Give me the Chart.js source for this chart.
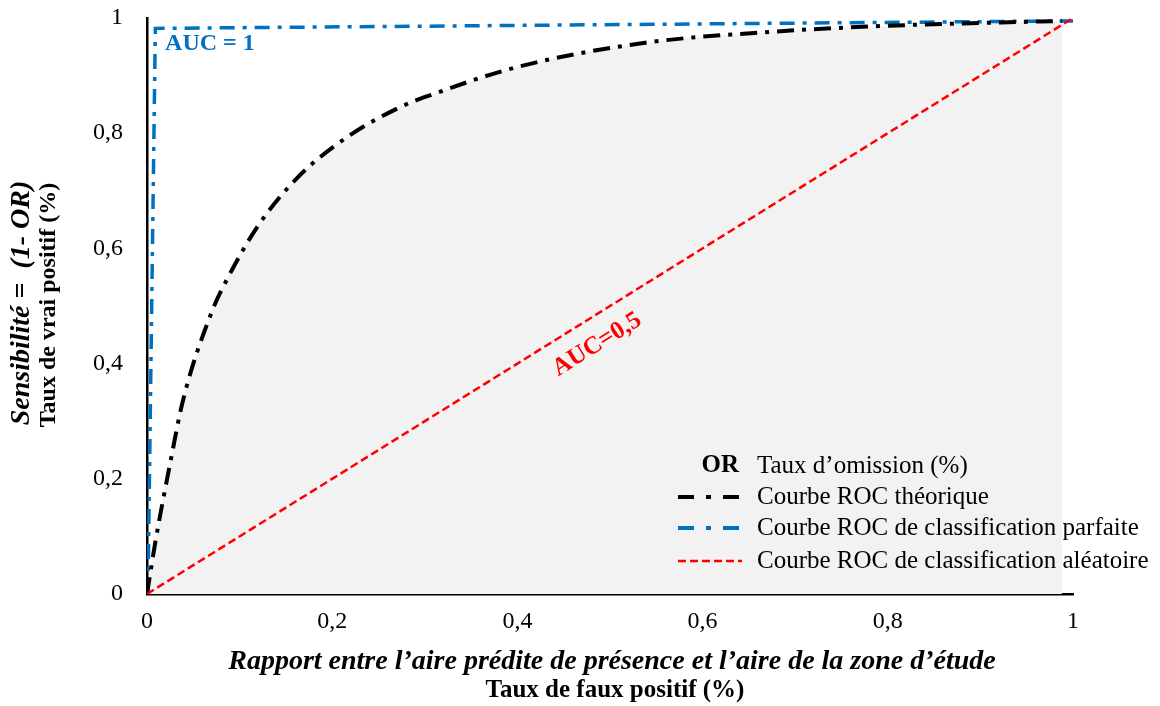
<!DOCTYPE html>
<html>
<head>
<meta charset="utf-8">
<script src="https://cdn.jsdelivr.net/npm/chart.js@4/dist/chart.umd.min.js"></script>
<style>
  html, body { margin: 0; padding: 0; background: #fff; }
  .chart { width: 1160px; height: 706px; }
</style>
</head>
<body>
<div class="chart"><canvas id="roc" width="1160" height="706"></canvas></div>
<script>
// ROC theorique
const rocX = [0, 0.009, 0.025, 0.039, 0.07, 0.086, 0.119, 0.162, 0.216, 0.273, 0.306, 0.40, 0.538, 0.674, 0.792, 0.988];
const rocY = [0, 0.09, 0.227, 0.337, 0.49, 0.545, 0.637, 0.722, 0.793, 0.845, 0.866, 0.915, 0.957, 0.976, 0.986, 0.995];

// classification parfaite
const perfX = [0.001, 0.009, 1];
const perfY = [0, 0.982, 0.995];

// classification aleatoire
const randX = [0, 1];
const randY = [0, 1];

const tickValues = [0, 0.2, 0.4, 0.6, 0.8, 1];

const legendItems = [
  { key: 'OR', label: 'Taux d\u2019omission (%)' },
  { label: 'Courbe ROC théorique', color: '#000000', dash: [16, 12, 5, 12], width: 4 },
  { label: 'Courbe ROC de classification parfaite', color: '#0070C0', dash: [16, 12, 5, 12], width: 4 },
  { label: 'Courbe ROC de classification aléatoire', color: '#FF0000', dash: [8, 4], width: 2.5 }
];

const toPoints = (xs, ys) => xs.map((x, i) => ({ x: x, y: ys[i] }));
const frNum = (v) => String(Math.round(v * 10) / 10).replace('.', ',');

const SERIF = '"Liberation Serif", "Times New Roman", serif';

const decorations = {
  id: 'decorations',
  afterDatasetsDraw(chart) {
    const ctx = chart.ctx;
    const xs = chart.scales.x, ys = chart.scales.y;
    ctx.save();

    // AUC = 1
    ctx.fillStyle = '#0070C0';
    ctx.font = 'bold 24px ' + SERIF;
    ctx.textAlign = 'left';
    ctx.textBaseline = 'middle';
    ctx.fillText('AUC = 1', xs.getPixelForValue(0.0195), ys.getPixelForValue(0.955));

    // AUC=0,5 along the diagonal
    const x0 = xs.getPixelForValue(0), y0 = ys.getPixelForValue(0);
    const x1 = xs.getPixelForValue(1), y1 = ys.getPixelForValue(1);
    const ang = Math.atan2(y1 - y0, x1 - x0);
    ctx.save();
    ctx.translate(xs.getPixelForValue(0.486), ys.getPixelForValue(0.433));
    ctx.rotate(ang);
    ctx.fillStyle = '#FF0000';
    ctx.font = 'bold 25px ' + SERIF;
    ctx.textAlign = 'center';
    ctx.fillText('AUC=0,5', 0, 0);
    ctx.restore();

    // legend
    const rowsY = [466, 497, 528, 561];
    const lineX0 = 678, lineX1 = 742, textX = 757;
    legendItems.forEach((it, i) => {
      const y = rowsY[i];
      if (it.key) {
        ctx.fillStyle = '#000';
        ctx.font = 'bold 25px ' + SERIF;
        ctx.textAlign = 'right';
        ctx.fillText(it.key, 739, y);
      } else {
        ctx.beginPath();
        ctx.setLineDash(it.dash);
        ctx.lineWidth = it.width;
        ctx.strokeStyle = it.color;
        ctx.moveTo(lineX0, y);
        ctx.lineTo(lineX1, y);
        ctx.stroke();
        ctx.setLineDash([]);
      }
      ctx.fillStyle = '#000';
      ctx.font = '25px ' + SERIF;
      ctx.textAlign = 'left';
      ctx.fillText(it.label, textX, y);
    });

    // axis titles
    ctx.fillStyle = '#000';
    ctx.textAlign = 'center';
    ctx.font = 'bold italic 28px ' + SERIF;
    ctx.fillText('Rapport entre l\u2019aire prédite de présence et l\u2019aire de la zone d\u2019étude', 612, 662, 775);
    ctx.font = 'bold 25px ' + SERIF;
    ctx.fillText('Taux de faux positif (%)', 615, 691);

    ctx.save();
    ctx.translate(22, 303);
    ctx.rotate(-Math.PI / 2);
    ctx.font = 'bold italic 28px ' + SERIF;
    ctx.fillText('Sensibilité =  (1- OR)', 0, 0);
    ctx.restore();
    ctx.save();
    ctx.translate(49, 305);
    ctx.rotate(-Math.PI / 2);
    ctx.font = 'bold 24px ' + SERIF;
    ctx.fillText('Taux de vrai positif (%)', 0, 0);
    ctx.restore();

    ctx.restore();
  }
};

new Chart(document.getElementById('roc'), {
  type: 'scatter',
  data: {
    datasets: [
      {
        label: 'Courbe ROC de classification aléatoire',
        data: toPoints(randX, randY),
        showLine: true,
        borderColor: '#FF0000',
        borderWidth: 2.5,
        borderDash: [8, 4],
        pointRadius: 0,
        fill: false,
        order: 1
      },
      {
        label: 'Courbe ROC théorique',
        data: toPoints(rocX, rocY),
        showLine: true,
        borderColor: '#000000',
        borderWidth: 4,
        borderDash: [17, 8, 4, 8],
        backgroundColor: '#F2F2F2',
        fill: 'origin',
        cubicInterpolationMode: 'monotone',
        pointRadius: 0,
        order: 2
      },
      {
        label: 'Courbe ROC de classification parfaite',
        data: toPoints(perfX, perfY),
        showLine: true,
        borderColor: '#0070C0',
        borderWidth: 3.5,
        borderDash: [15, 8, 4, 8],
        pointRadius: 0,
        fill: false,
        order: 3
      }
    ]
  },
  options: {
    responsive: false,
    animation: false,
    layout: { padding: { left: 0, top: 18, right: 87, bottom: 0 } },
    plugins: {
      legend: { display: false },
      tooltip: { enabled: false },
      filler: { drawTime: 'beforeDatasetsDraw' }
    },
    scales: {
      x: {
        type: 'linear',
        min: 0,
        max: 1,
        afterFit: (s) => { s.height = 112; s.paddingLeft = 0; s.paddingRight = 0; },
        afterBuildTicks: (s) => { s.ticks = tickValues.map(v => ({ value: v })); },
        grid: { display: false },
        border: { display: true, color: '#000', width: 2.5 },
        ticks: {
          padding: 5,
          color: '#000',
          font: { family: SERIF, size: 24 },
          callback: (v) => frNum(v)
        }
      },
      y: {
        type: 'linear',
        min: 0,
        max: 1,
        afterFit: (s) => { s.width = 147; s.paddingTop = 0; s.paddingBottom = 0; },
        afterBuildTicks: (s) => { s.ticks = tickValues.map(v => ({ value: v })); },
        grid: { display: false },
        border: { display: true, color: '#000', width: 2.5 },
        ticks: {
          padding: 16,
          color: '#000',
          font: { family: SERIF, size: 24 },
          callback: (v) => frNum(v)
        }
      }
    }
  },
  plugins: [decorations]
});
</script>
</body>
</html>
